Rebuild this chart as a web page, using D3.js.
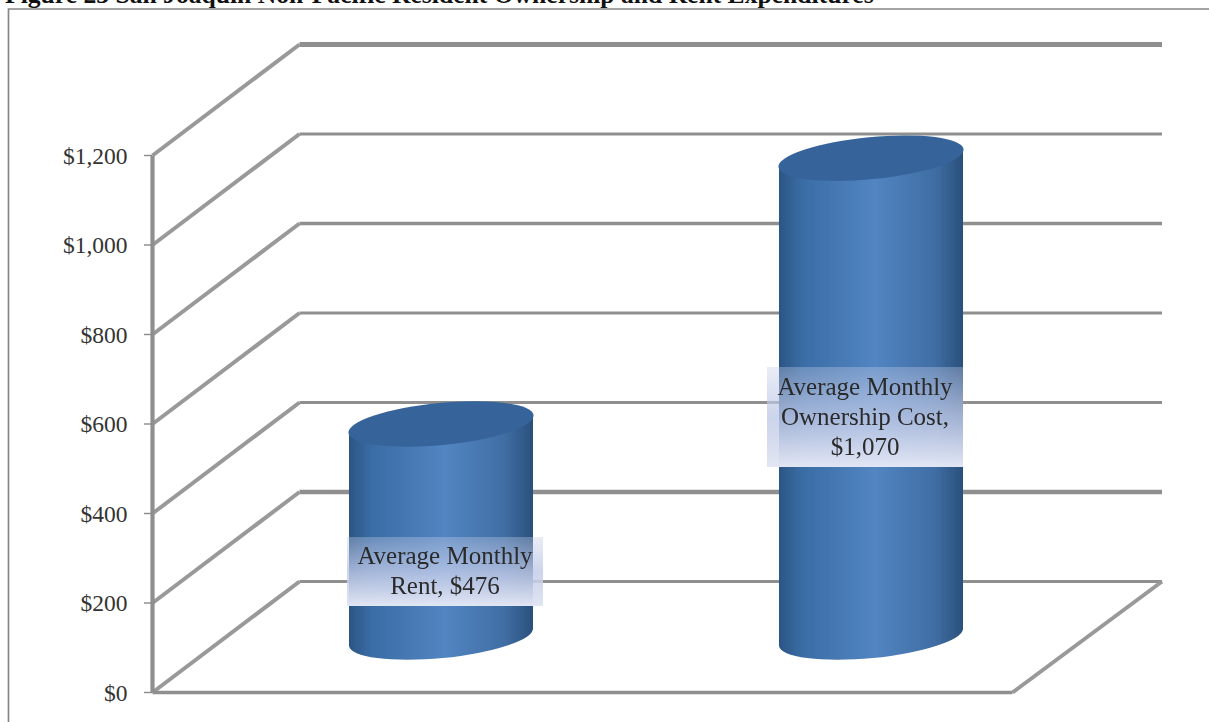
<!DOCTYPE html>
<html><head><meta charset="utf-8">
<script src="https://d3js.org/d3.v7.min.js"></script>
<style>html,body{margin:0;padding:0;background:#fff}svg{display:block}</style>
</head><body><svg id="c" width="1209" height="722"></svg>
<script>
const titleText = "Figure 23 San Joaquin Non-Pacific Resident Ownership and Rent Expenditures";
const categories = ["Average Monthly Rent", "Average Monthly Ownership Cost"];
const values = [476, 1070];
const labelLines = [["Average Monthly", "Rent, $476"], ["Average Monthly", "Ownership Cost,", "$1,070"]];
const tickValues = [0, 200, 400, 600, 800, 1000, 1200];
const gridWidths = [3.2, 4.6, 3.2, 3.2, 3.6, 3.2, 4.8];

const svg = d3.select("#c");
const font = "'Liberation Serif', serif";
const y = d3.scaleLinear().domain([0, 1200]).range([692.5, 155.5]);
const x = d3.scaleBand().domain(categories).range([152.5, 1012.5]).paddingInner(0.5).paddingOuter(0.25);
const depthX = 147, depthY = 111, wallEnd = 1162;
const rx = 92, ry = 21;

const defs = svg.append("defs");
const body = defs.append("linearGradient").attr("id", "body");
[[0,"#2b5585"],[0.12,"#3a6ca4"],[0.52,"#5285c2"],[0.85,"#3f6da3"],[1,"#2a507c"]]
  .forEach(d => body.append("stop").attr("offset", d[0]).attr("stop-color", d[1]));
const lab = defs.append("linearGradient").attr("id", "lab").attr("x1",0).attr("y1",0).attr("x2",0).attr("y2",1);
[[0,"#c2cbe6",0.35],[0.5,"#c0cae8",0.8],[1,"#e2e6f3",1]]
  .forEach(d => lab.append("stop").attr("offset", d[0]).attr("stop-color", d[1]).attr("stop-opacity", d[2]));
const soft = d => defs.append("filter").attr("id", d[0])
  .attr("filterUnits", "userSpaceOnUse").attr("x", 0).attr("y", 0).attr("width", 1209).attr("height", 722)
  .append("feGaussianBlur").attr("stdDeviation", d[1]);
soft(["soft", 0.7]); soft(["soft2", 0.5]);

// page frame and title
svg.append("text").attr("x", 5).attr("y", 3).attr("font-family", font).attr("font-weight", "bold")
  .attr("font-size", 25.6).attr("fill", "#111").text(titleText);
svg.append("path").attr("d", "M8.5,722V9H1209").attr("fill", "none").attr("stroke", "#868686").attr("stroke-width", 1.7);

// walls and gridlines
const wall = svg.append("g").attr("fill", "none").attr("stroke", "#8f8f8f").attr("filter", "url(#soft)");
wall.selectAll("path.grid").data(tickValues).join("path").attr("class", "grid")
  .attr("stroke-width", (d, i) => gridWidths[i])
  .attr("d", d => `M${x.range()[0] + depthX},${y(d) - depthY}H${wallEnd}`);
wall.selectAll("path.side").data(tickValues).join("path").attr("class", "side")
  .attr("stroke-width", 4).attr("stroke", "#999")
  .attr("d", d => `M${x.range()[0]},${y(d)}L${x.range()[0] + depthX},${y(d) - depthY}`);
wall.append("path").attr("stroke-width", 4.2)
  .attr("d", `M${x.range()[0]},${y(1200)}V${y(0)}`);
wall.append("path").attr("stroke-width", 3.4)
  .attr("d", `M${x.range()[0]},${y(0)}H${x.range()[1]}`);
wall.append("path").attr("stroke-width", 4).attr("stroke", "#999")
  .attr("d", `M${x.range()[1]},${y(0)}L${wallEnd},${y(0) - depthY}`);

// axis ticks and labels
const fmt = d3.format("$,");
const ticks = svg.append("g").selectAll("g").data(tickValues).join("g")
  .attr("transform", d => `translate(0,${y(d)})`);
ticks.append("line").attr("x1", 144).attr("x2", 152).attr("stroke", "#8a8a8a").attr("stroke-width", 1.4);
ticks.append("text").attr("x", 127.5).attr("y", 8).attr("text-anchor", "end").attr("font-family", font)
  .attr("font-size", 23.5).attr("fill", "#333").text(d => fmt(d));

// cylinders
const backShift = depthY / 2, sideShift = depthX / 2;
const tilt = -5.5;
const marks = svg.append("g").attr("filter", "url(#soft2)").selectAll("g").data(categories).join("g");
marks.each(function (c, i) {
  const g = d3.select(this);
  const cx = x(c) + x.bandwidth() / 2 + sideShift;
  const yB = y(0) - backShift, yT = y(values[i]) - backShift;
  const dy = Math.sin(-tilt * Math.PI / 180) * rx;
  g.append("path").attr("fill", "url(#body)")
    .attr("d", `M${cx - rx},${yT + dy}V${yB + dy}A${rx},${ry} ${tilt} 0 0 ${cx + rx},${yB - dy}V${yT - dy}Z`);
  g.append("ellipse").attr("cx", cx).attr("cy", yT).attr("rx", rx + 1).attr("ry", ry)
    .attr("transform", `rotate(${tilt} ${cx} ${yT})`).attr("fill", "#36639a");
});

// data labels
const boxes = [[347, 537, 196, 69, 27], [767, 367, 196, 100, 28]];
const labels = svg.append("g").selectAll("g").data(labelLines).join("g");
labels.append("rect").attr("x", (d, i) => boxes[i][0]).attr("y", (d, i) => boxes[i][1])
  .attr("width", (d, i) => boxes[i][2]).attr("height", (d, i) => boxes[i][3]).attr("fill", "url(#lab)");
labels.each(function (lines, i) {
  d3.select(this).selectAll("text").data(lines).join("text")
    .attr("x", boxes[i][0] + boxes[i][2] / 2)
    .attr("y", (d, j) => boxes[i][1] + boxes[i][4] + j * 30)
    .attr("text-anchor", "middle").attr("font-family", font).attr("font-size", 25).attr("fill", "#2a2a2a").text(d => d);
});
</script></body></html>
